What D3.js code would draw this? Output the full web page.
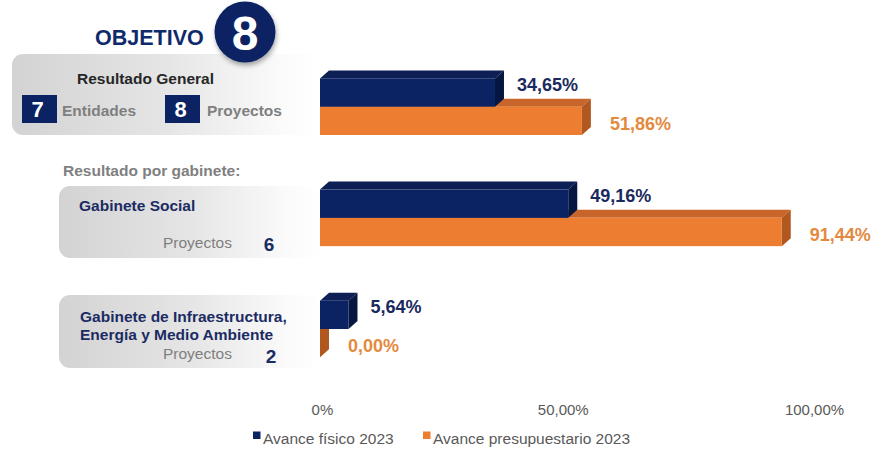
<!DOCTYPE html>
<html>
<head>
<meta charset="utf-8">
<script src="https://cdn.jsdelivr.net/npm/d3@7"></script>
<style>
  html, body { margin: 0; padding: 0; background: #ffffff; }
  svg { display: block; font-family: "Liberation Sans", Arial, sans-serif; }
</style>
</head>
<body>
<svg id="chart" width="871" height="455"></svg>
<script>
// ---- data ----
const categories = ["Resultado General", "Gabinete Social", "Gabinete de Infraestructura, Energía y Medio Ambiente"];
const seriesNames = ["Avance físico 2023", "Avance presupuestario 2023"];
const avanceFisico = [34.65, 49.16, 5.64];
const avancePresupuestario = [51.86, 91.44, 0.00];
const valueLabels = [["34,65%", "49,16%", "5,64%"], ["51,86%", "91,44%", "0,00%"]];
const tickValues = [0, 50, 100];
const tickLabels = ["0,00%", "50,00%", "100,00%"];
const objetivo = "8";
const entidades = 7;
const proyectosTotal = 8;
const proyectosGabinete = [6, 2];

// ---- styles ----
const colors = {
  front: ["#0b2363", "#ed7d31"],
  top:   ["#0d1f55", "#c8652a"],
  side:  ["#051640", "#b0581f"],
  label: ["#1a2a5e", "#e48a3e"]
};
const depthX = 9, depthY = 8;

const svg = d3.select("#chart");
const defs = svg.append("defs");

const grad = defs.append("linearGradient").attr("id", "boxGrad")
  .attr("x1", "0%").attr("x2", "100%").attr("y1", "0%").attr("y2", "0%");
grad.append("stop").attr("offset", "0%").attr("stop-color", "#d3d3d3");
grad.append("stop").attr("offset", "50%").attr("stop-color", "#e5e5e5");
grad.append("stop").attr("offset", "88%").attr("stop-color", "#fbfbfb");
grad.append("stop").attr("offset", "100%").attr("stop-color", "#ffffff");

const shadow = defs.append("filter").attr("id", "shadow").attr("x", "-20%").attr("y", "-20%").attr("width", "140%").attr("height", "150%");
shadow.append("feDropShadow").attr("dx", 1).attr("dy", 3).attr("stdDeviation", 2.5).attr("flood-color", "#000").attr("flood-opacity", 0.35);

// ---- scales ----
const x = d3.scaleLinear().domain([0, 100]).range([320, 825]);
const xAxisScale = d3.scaleLinear().domain([0, 100]).range([311.5, 814]);
const y = d3.scalePoint().domain(categories).range([106.7, 329]);
const sub = d3.scaleBand().domain(seriesNames).range([-28.3, 28.3]);

// ---- left panels ----
const panels = [
  { x: 12, y: 54, w: 308, h: 81 },
  { x: 59, y: 186, w: 262, h: 72 },
  { x: 59, y: 295, w: 262, h: 73 }
];
svg.append("g").selectAll("rect").data(panels).join("rect")
  .attr("x", d => d.x).attr("y", d => d.y).attr("width", d => d.w).attr("height", d => d.h)
  .attr("rx", 11).attr("fill", "url(#boxGrad)");

// Title
svg.append("text").attr("x", 95).attr("y", 45)
  .attr("font-size", 21.5).attr("font-weight", "bold").attr("fill", "#0f2a6b")
  .text("OBJETIVO");
svg.append("circle").attr("cx", 245).attr("cy", 32).attr("r", 30.5)
  .attr("fill", "#0b2363").attr("filter", "url(#shadow)");
svg.append("text").attr("x", 245).attr("y", 50).attr("text-anchor", "middle")
  .attr("font-size", 48).attr("font-weight", "bold").attr("fill", "#ffffff").text(objetivo);

// General result panel
svg.append("text").attr("x", 77).attr("y", 83.5).attr("font-size", 15.5).attr("font-weight", "bold")
  .attr("fill", "#262626").text(categories[0]);
const counters = [
  { x: 22, n: entidades, label: "Entidades", lx: 62 },
  { x: 165, n: proyectosTotal, label: "Proyectos", lx: 207 }
];
const cg = svg.append("g");
cg.selectAll("rect").data(counters).join("rect")
  .attr("x", d => d.x).attr("y", 95).attr("width", 35).attr("height", 28).attr("fill", "#0b2363");
cg.selectAll("text.num").data(counters).join("text").attr("class", "num")
  .attr("x", d => d.x + 15.5).attr("y", 116.5).attr("text-anchor", "middle")
  .attr("font-size", 22).attr("font-weight", "bold").attr("fill", "#ffffff").text(d => d.n);
cg.selectAll("text.lab").data(counters).join("text").attr("class", "lab")
  .attr("x", d => d.lx).attr("y", 115.5)
  .attr("font-size", 15.5).attr("font-weight", "bold").attr("fill", "#7f7f7f").text(d => d.label);

svg.append("text").attr("x", 63).attr("y", 176).attr("font-size", 15.5).attr("font-weight", "bold")
  .attr("fill", "#7f7f7f").text("Resultado por gabinete:");

// Gabinete Social
svg.append("text").attr("x", 79).attr("y", 210.5).attr("font-size", 15.5).attr("font-weight", "bold")
  .attr("fill", "#1b2b63").text(categories[1]);
svg.append("text").attr("x", 163).attr("y", 247.5).attr("font-size", 15.5)
  .attr("fill", "#7f7f7f").text("Proyectos");
svg.append("text").attr("x", 269).attr("y", 250.5).attr("text-anchor", "middle").attr("font-size", 19).attr("font-weight", "bold")
  .attr("fill", "#1b2b63").text(proyectosGabinete[0]);

// Gabinete Infraestructura
svg.append("text").attr("x", 80).attr("y", 321.5).attr("font-size", 15.5).attr("font-weight", "bold")
  .attr("fill", "#1b2b63").text("Gabinete de Infraestructura,");
svg.append("text").attr("x", 80).attr("y", 340).attr("font-size", 15.5).attr("font-weight", "bold")
  .attr("fill", "#1b2b63").text("Energía y Medio Ambiente");
svg.append("text").attr("x", 163).attr("y", 358.5).attr("font-size", 15.5)
  .attr("fill", "#7f7f7f").text("Proyectos");
svg.append("text").attr("x", 271).attr("y", 363).attr("text-anchor", "middle").attr("font-size", 19).attr("font-weight", "bold")
  .attr("fill", "#1b2b63").text(proyectosGabinete[1]);

// ---- 3D bars ----
const seriesValues = [avanceFisico, avancePresupuestario];
const bars = [];
seriesNames.forEach((s, si) => {
  categories.forEach((c, ci) => {
    bars.push({ si, s, c, v: seriesValues[si][ci], label: valueLabels[si][ci] });
  });
});
// draw orange (second series) first so the navy front covers its top face
const drawOrder = [1, 0];
const barG = svg.append("g");
drawOrder.forEach(si => {
  const data = bars.filter(b => b.si === si);
  const g = barG.append("g");
  const geom = d => {
    const x0 = x(0), x1 = x(d.v);
    const y0 = y(d.c) + sub(d.s), y1 = y0 + sub.bandwidth();
    return { x0, x1, y0, y1 };
  };
  g.selectAll("polygon.top").data(data).join("polygon").attr("class", "top")
    .attr("points", d => { const q = geom(d); return [[q.x0, q.y0], [q.x0 + depthX, q.y0 - depthY], [q.x1 + depthX, q.y0 - depthY], [q.x1, q.y0]].join(" "); })
    .attr("fill", colors.top[si]);
  g.selectAll("polygon.side").data(data).join("polygon").attr("class", "side")
    .attr("points", d => { const q = geom(d); return [[q.x1, q.y0], [q.x1 + depthX, q.y0 - depthY], [q.x1 + depthX, q.y1 - depthY], [q.x1, q.y1]].join(" "); })
    .attr("fill", colors.side[si]);
  g.selectAll("rect.front").data(data).join("rect").attr("class", "front")
    .attr("x", d => geom(d).x0).attr("y", d => geom(d).y0)
    .attr("width", d => geom(d).x1 - geom(d).x0).attr("height", sub.bandwidth())
    .attr("fill", colors.front[si]);
});

// value labels
const labelDx = [13, 19];
const labelDy = [-8, 3];
svg.append("g").selectAll("text").data(bars).join("text")
  .attr("x", d => x(d.v) + depthX + labelDx[d.si])
  .attr("y", d => y(d.c) + sub(d.s) + sub.bandwidth() / 2 + labelDy[d.si] + 6)
  .attr("font-size", 18).attr("font-weight", "bold")
  .attr("fill", d => colors.label[d.si]).text(d => d.label);

// ---- axis (first label partly hidden, as in the original) ----
defs.append("clipPath").attr("id", "axisClip").append("rect")
  .attr("x", 311.5).attr("y", 380).attr("width", 570).attr("height", 60);
const axisOuter = svg.append("g").attr("clip-path", "url(#axisClip)");
const axisG = axisOuter.append("g").attr("transform", "translate(0,415)")
  .call(d3.axisBottom(xAxisScale).tickValues(tickValues).tickFormat((d, i) => tickLabels[i]).tickSize(0));
axisG.select(".domain").remove();
axisG.selectAll("text").attr("y", 0).attr("dy", 0)
  .attr("font-family", "Liberation Sans, Arial, sans-serif").attr("font-size", 15).attr("fill", "#595959");

// ---- legend ----
const legendX = [253, 423];
const lg = svg.append("g").selectAll("g").data(seriesNames).join("g")
  .attr("transform", (d, i) => `translate(${legendX[i]},0)`);
lg.append("rect").attr("x", 0).attr("y", 431.5).attr("width", 7.5).attr("height", 7.5)
  .attr("fill", (d, i) => colors.front[i]);
lg.append("text").attr("x", 10).attr("y", 444).attr("font-size", 15.5).attr("fill", "#595959").text(d => d);
</script>
</body>
</html>
